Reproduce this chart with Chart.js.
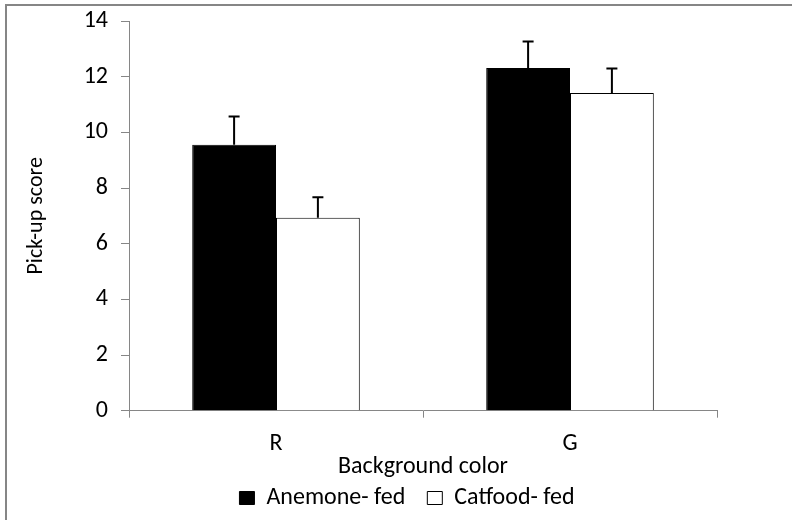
<!DOCTYPE html>
<html>
<head>
<meta charset="utf-8">
<script src="https://cdn.jsdelivr.net/npm/chart.js@4.4.1/dist/chart.umd.min.js"></script>
<style>
  html, body { margin: 0; padding: 0; background: #fff; }
  #wrap { width: 792px; height: 520px; position: relative; }
</style>
</head>
<body>
<div id="wrap"><canvas id="c" width="792" height="520"></canvas></div>
<script>
// ---- Data ----
const categories = ['R', 'G'];
const seriesNames = ['Anemone- fed', 'Catfood- fed'];
const anemoneFed = [9.55, 12.31];
const catfoodFed = [6.93, 11.41];
const anemoneErr = [1.02, 0.95];
const catfoodErr = [0.74, 0.88];
const yTickValues = [0, 2, 4, 6, 8, 10, 12, 14];
const xTitle = 'Background color';
const yTitle = 'Pick-up score';

const errorsByDataset = [anemoneErr, catfoodErr];
const FONT = 'Carlito, Lato, "Open Sans", sans-serif';
const AXIS_GRAY = '#868686';

const framePlugin = {
  id: 'frame',
  beforeDraw(chart) {
    const ctx = chart.ctx;
    ctx.save();
    ctx.fillStyle = '#fff';
    ctx.fillRect(0, 0, chart.width, chart.height);
    ctx.strokeStyle = AXIS_GRAY;
    ctx.lineWidth = 2;
    ctx.beginPath();
    ctx.moveTo(6, chart.height);
    ctx.lineTo(6, 5);
    ctx.lineTo(chart.width, 5);
    ctx.stroke();
    ctx.restore();
  }
};

const errorBarPlugin = {
  id: 'errorBars',
  afterDatasetsDraw(chart) {
    const ctx = chart.ctx;
    const yScale = chart.scales.y;
    chart.data.datasets.forEach((ds, di) => {
      const meta = chart.getDatasetMeta(di);
      const errs = errorsByDataset[di];
      meta.data.forEach((bar, i) => {
        const v = ds.data[i];
        const e = errs[i];
        const yBase = yScale.getPixelForValue(v);
        const yTop = yScale.getPixelForValue(v + e);
        ctx.save();
        ctx.strokeStyle = '#000';
        ctx.lineWidth = 2;
        ctx.beginPath();
        ctx.moveTo(bar.x, yBase);
        ctx.lineTo(bar.x, yTop);
        ctx.moveTo(bar.x - 5.5, yTop);
        ctx.lineTo(bar.x + 5.5, yTop);
        ctx.stroke();
        ctx.restore();
      });
    });
  }
};

function zeroPad(scale) {
  scale.paddingTop = 0;
  scale.paddingBottom = 0;
  scale.paddingLeft = 0;
  scale.paddingRight = 0;
}

new Chart(document.getElementById('c'), {
  type: 'bar',
  data: {
    labels: categories,
    datasets: [
      {
        label: seriesNames[0],
        data: anemoneFed,
        backgroundColor: '#000',
        borderColor: '#000',
        borderWidth: 1,
        categoryPercentage: 0.57,
        barPercentage: 1.0
      },
      {
        label: seriesNames[1],
        data: catfoodFed,
        backgroundColor: '#fff',
        borderColor: '#000',
        borderWidth: 1,
        categoryPercentage: 0.57,
        barPercentage: 1.0
      }
    ]
  },
  options: {
    responsive: false,
    animation: false,
    devicePixelRatio: 1,
    layout: { padding: { left: 22, right: 0, top: 21, bottom: 0 } },
    plugins: {
      tooltip: { enabled: false },
      legend: {
        position: 'bottom',
        labels: {
          color: '#000',
          font: { family: FONT, size: 24 },
          boxWidth: 15,
          boxHeight: 13,
          padding: 22
        }
      }
    },
    scales: {
      x: {
        grid: {
          display: true,
          drawOnChartArea: false,
          drawTicks: true,
          tickLength: 7,
          color: AXIS_GRAY,
          offset: true
        },
        border: { display: true, color: AXIS_GRAY, width: 1 },
        ticks: { color: '#000', font: { family: FONT, size: 24 }, padding: 11.9 },
        title: {
          display: true,
          text: xTitle,
          color: '#000',
          font: { family: FONT, size: 24 },
          padding: { top: 0, bottom: -17.4 }
        },
        afterFit(scale) { scale.height = 53.3; zeroPad(scale); }
      },
      y: {
        min: yTickValues[0],
        max: yTickValues[yTickValues.length - 1],
        afterBuildTicks(scale) { scale.ticks = yTickValues.map(v => ({ value: v })); },
        grid: {
          display: true,
          drawOnChartArea: false,
          drawTicks: true,
          tickLength: 8,
          color: AXIS_GRAY
        },
        border: { display: true, color: AXIS_GRAY, width: 1 },
        ticks: { color: '#000', font: { family: FONT, size: 24 }, padding: 13 },
        title: {
          display: true,
          text: yTitle,
          color: '#000',
          font: { family: FONT, size: 22 },
          padding: { top: 1, bottom: 0 }
        },
        afterFit(scale) { scale.width = 107; zeroPad(scale); }
      },
      y2: {
        position: 'right',
        display: true,
        grid: { display: false, drawTicks: false },
        border: { display: false },
        ticks: { display: false },
        afterFit(scale) { scale.width = 75; zeroPad(scale); }
      }
    }
  },
  plugins: [framePlugin, errorBarPlugin]
});
</script>
</body>
</html>
